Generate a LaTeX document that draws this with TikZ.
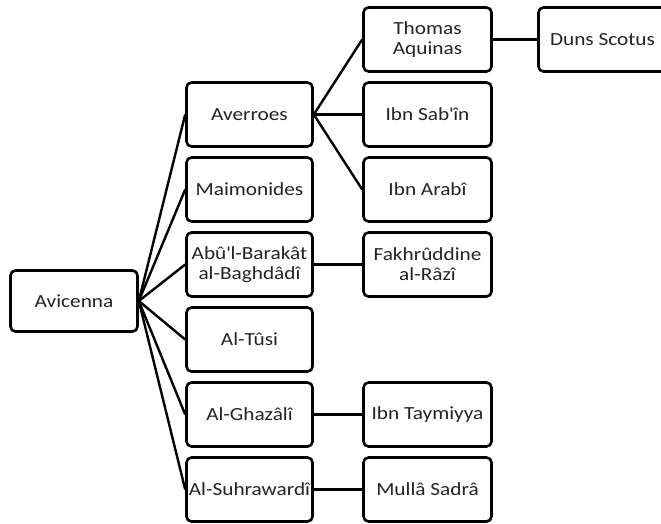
\documentclass[tikz,border=0pt]{standalone}
\usepackage{fontspec}
\setmainfont{Carlito}[FakeStretch=1.15]
\definecolor{txt}{RGB}{35,35,35}
\tikzset{
  box/.style={draw=black, line width=2.6pt, rounded corners=5pt, fill=white,
    text=txt, align=center, inner sep=1pt, font=\fontsize{18.5}{20}\selectfont,
    minimum height=64pt},
  colA/.style={box, minimum width=127pt, minimum height=61pt},
  colB/.style={box, minimum width=126pt},
  colC/.style={box, minimum width=128pt},
  link/.style={draw=black, line width=2.4pt}
}
\begin{document}
\begin{tikzpicture}[x=1pt,y=-1pt]
\useasboundingbox (0,0) rectangle (661,523);
\begin{scope}
\clip (0,0) rectangle (661,523);
\node[colA] (avi) at (74,301) {Avicenna};
\node[colB] (ave) at (249.5,114.5) {Averroes};
\node[colB] (mai) at (249.5,189.5) {Maimonides};
\node[colB] (abu) at (249.5,264.5) {Abû\textquotesingle l-Barakât\\al-Baghdâdî};
\node[colB] (tus) at (249.5,339.5) {Al-Tûsi};
\node[colB] (gha) at (249.5,414.5) {Al-Ghazâlî};
\node[colB] (suh) at (249.5,489.5) {Al-Suhrawardî};
\node[colC] (tho) at (427.5,39.5) {Thomas\\Aquinas};
\node[colC] (sab) at (427.5,114.5) {Ibn Sab\textquotesingle în};
\node[colC] (ara) at (427.5,189.5) {Ibn Arabî};
\node[colC] (fak) at (427.5,264.5) {Fakhrûddine\\al-Râzî};
\node[colC] (tay) at (427.5,414.5) {Ibn Taymiyya};
\node[colC] (mul) at (427.5,489.5) {Mullâ Sadrâ};
\node[colC] (dun) at (602.5,39.5) {Duns Scotus};
\foreach \t in {ave,mai,abu,tus,gha,suh}
  \draw[link] (avi.east) -- (\t.west);
\foreach \t in {tho,sab,ara}
  \draw[link] (ave.east) -- (\t.west);
\draw[link] (abu.east) -- (fak.west);
\draw[link] (gha.east) -- (tay.west);
\draw[link] (suh.east) -- (mul.west);
\draw[link] (tho.east) -- (dun.west);
\end{scope}
\end{tikzpicture}
\end{document}
